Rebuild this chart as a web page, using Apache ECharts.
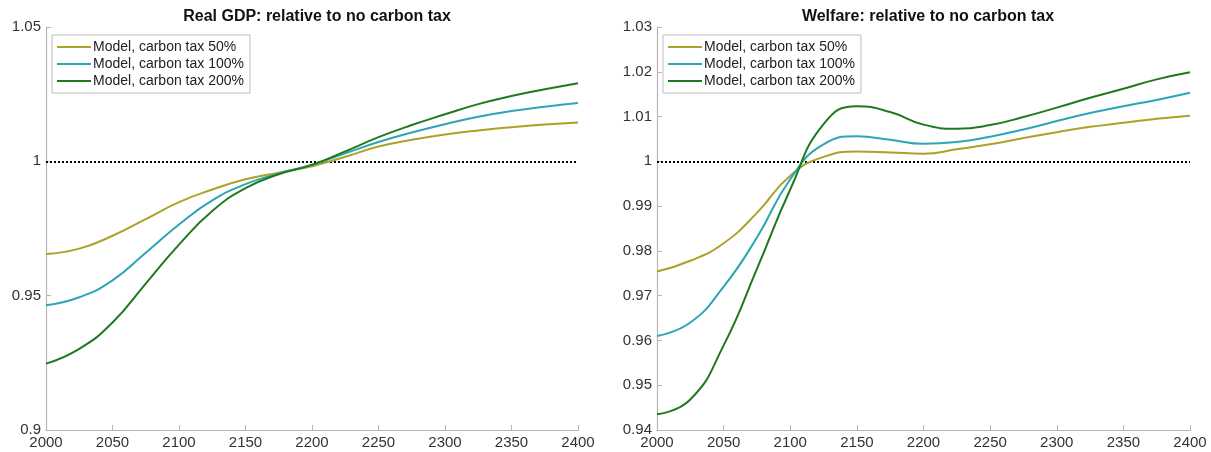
<!DOCTYPE html>
<html>
<head>
<meta charset="utf-8">
<script src="https://cdn.jsdelivr.net/npm/echarts@6/dist/echarts.min.js"></script>
<style>html,body{margin:0;padding:0;background:#fff}#c{width:1211px;height:452px}</style>
</head>
<body>
<div id="c"></div>
<script>
var years = [2000,2025,2050,2075,2100,2125,2150,2175,2200,2225,2250,2275,2300,2325,2350,2375,2400];
var seriesNames = ['Model, carbon tax 50%','Model, carbon tax 100%','Model, carbon tax 200%'];
var gdp50  = [0.9655,0.9675,0.9723,0.9785,0.9848,0.9895,0.9933,0.9958,0.9982,1.0017,1.0055,1.0080,1.0100,1.0115,1.0127,1.0137,1.0145];
var gdp100 = [0.9464,0.9494,0.9557,0.9660,0.9765,0.9855,0.9915,0.9955,0.9987,1.0030,1.0072,1.0107,1.0138,1.0166,1.0187,1.0203,1.0217];
var gdp200 = [0.9247,0.9302,0.9400,0.9545,0.9690,0.9815,0.9900,0.9952,0.9987,1.0037,1.0090,1.0135,1.0175,1.0213,1.0243,1.0268,1.0291];
var wel50  = [0.9754,0.9778,0.9817,0.9885,0.9968,1.0010,1.0022,1.0020,1.0017,1.0027,1.0038,1.0052,1.0065,1.0077,1.0086,1.0095,1.0102];
var wel100 = [0.9610,0.9640,0.9720,0.9830,0.9960,1.0038,1.0056,1.0048,1.0039,1.0043,1.0055,1.0071,1.0090,1.0108,1.0123,1.0137,1.0153];
var wel200 = [0.9435,0.9468,0.9589,0.9760,0.9937,1.0083,1.0123,1.0110,1.0082,1.0073,1.0081,1.0099,1.0120,1.0142,1.0162,1.0183,1.0199];
var xTicks = [2000,2050,2100,2150,2200,2250,2300,2350,2400];
var titles = ['Real GDP: relative to no carbon tax','Welfare: relative to no carbon tax'];

var colors = ['#aca226','#2ea5b5','#1f7a1f'];
var font = 'Liberation Sans, Arial, Helvetica, sans-serif';
function pairs(v){ return years.map(function(y,i){ return [y, v[i]]; }); }

var axisLine = {show:true, lineStyle:{color:'#b5b5b5', width:1.2}};
var axisTick = {show:true, inside:true, length:5, lineStyle:{color:'#b5b5b5'}};
var axisLabel = {color:'#333', fontSize:15, fontFamily:font};

function xAxis(idx){
  return {type:'value', gridIndex:idx, min:xTicks[0], max:xTicks[xTicks.length-1], interval:50,
    axisLine:axisLine, axisTick:axisTick, splitLine:{show:false},
    axisLabel:Object.assign({margin:5, showMinLabel:true, showMaxLabel:true, formatter:function(v){return String(v);}}, axisLabel)};
}
function yAxis(idx, mn, mx, iv){
  return {type:'value', gridIndex:idx, min:mn, max:mx, interval:iv,
    axisLine:axisLine, axisTick:axisTick, splitLine:{show:false},
    axisLabel:Object.assign({margin:5, formatter:function(v){ return String(+v.toFixed(4)); }}, axisLabel)};
}
function mk(name, data, ci, idx, withLine){
  var s = {name:name, type:'line', xAxisIndex:idx, yAxisIndex:idx, data:pairs(data),
    smooth:0.5, symbol:'none', lineStyle:{color:colors[ci], width:2}, itemStyle:{color:colors[ci]}, z:3};
  if (withLine) {
    s.markLine = {silent:true, symbol:['none','none'], label:{show:false},
      lineStyle:{type:[2,2], color:'#000', width:2}, data:[{yAxis:1}], z:2, animation:false};
  }
  return s;
}
function legend(idx, left){
  return {orient:'vertical', left:left, top:35, itemWidth:34, itemHeight:2, itemGap:3, icon:'rect',
    padding:[5,6,5,5], borderColor:'#bdbdbd', borderWidth:1, backgroundColor:'#fff',
    textStyle:{color:'#222', fontSize:14, fontFamily:font, padding:[0,0,0,-3]},
    data:seriesNames.map(function(n){return {name:n};}),
    selectedMode:false};
}

var chart = echarts.init(document.getElementById('c'));
var series = [
  mk(seriesNames[0], gdp50, 0, 0, true),
  mk(seriesNames[1], gdp100, 1, 0, false),
  mk(seriesNames[2], gdp200, 2, 0, false),
  mk(seriesNames[0], wel50, 0, 1, true),
  mk(seriesNames[1], wel100, 1, 1, false),
  mk(seriesNames[2], wel200, 2, 1, false)
];
chart.setOption({
  animation:false,
  backgroundColor:'#fff',
  title:[
    {text:titles[0], left:312, top:4, textAlign:'center', textStyle:{fontSize:16, fontWeight:'bold', color:'#111', fontFamily:font}},
    {text:titles[1], left:923, top:4, textAlign:'center', textStyle:{fontSize:16, fontWeight:'bold', color:'#111', fontFamily:font}}
  ],
  legend:[legend(0, 52), legend(1, 663)],
  grid:[
    {left:46, right:633, top:27, bottom:22},
    {left:657, right:21, top:27, bottom:22}
  ],
  xAxis:[xAxis(0), xAxis(1)],
  yAxis:[yAxis(0, 0.9, 1.05, 0.05), yAxis(1, 0.94, 1.03, 0.01)],
  series:series
});
</script>
</body>
</html>
